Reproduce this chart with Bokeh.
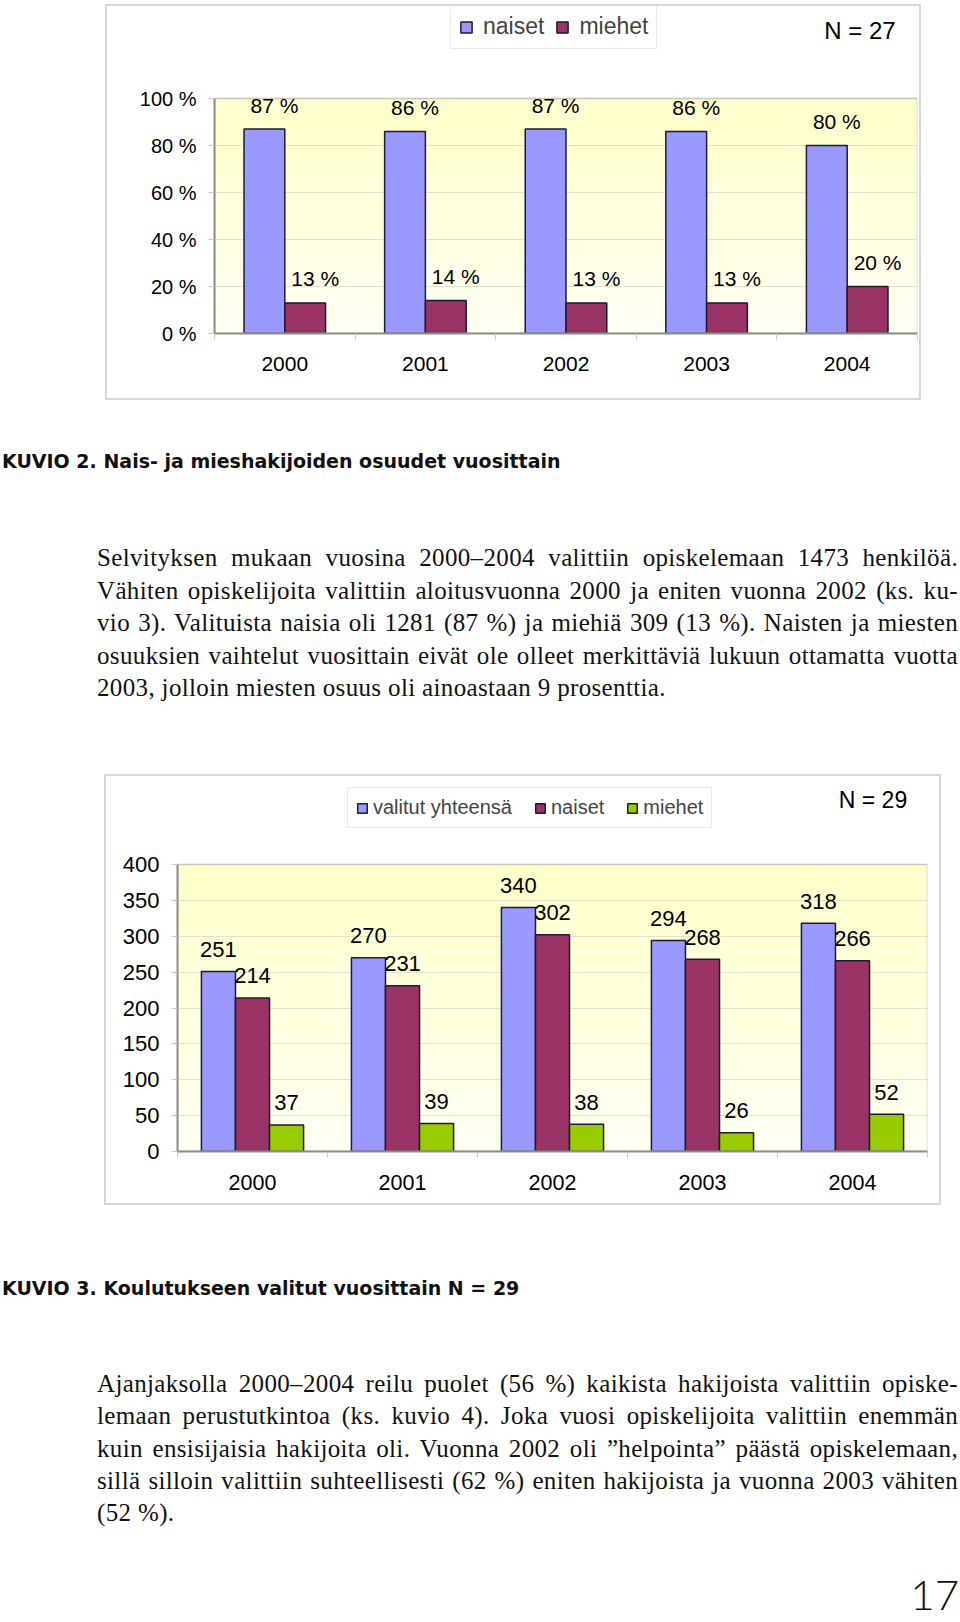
from bokeh.plotting import figure
from bokeh.models import (ColumnDataSource, LabelSet, Label, Legend, LegendItem,
                          FixedTicker, BoxAnnotation, Div, Range1d)
from bokeh.core.properties import value
from bokeh.layouts import column
from bokeh.embed import file_html
from bokeh.resources import INLINE

# ---------------- data ----------------
years = ["2000", "2001", "2002", "2003", "2004"]

# KUVIO 2 (percent shares)
k2_naiset = [87, 86, 87, 86, 80]
k2_miehet = [13, 14, 13, 13, 20]
k2_yticks = [0, 20, 40, 60, 80, 100]

# KUVIO 3 (counts)
k3_valitut = [251, 270, 340, 294, 318]
k3_naiset = [214, 231, 302, 268, 266]
k3_miehet = [37, 39, 38, 26, 52]
k3_yticks = [0, 50, 100, 150, 200, 250, 300, 350, 400]

caption2 = "KUVIO 2. Nais- ja mieshakijoiden osuudet vuosittain"
caption3 = "KUVIO 3. Koulutukseen valitut vuosittain N = 29"
para1 = [
    "Selvityksen mukaan vuosina 2000–2004 valittiin opiskelemaan 1473 henkilöä.",
    "Vähiten opiskelijoita valittiin aloitusvuonna 2000 ja eniten vuonna 2002 (ks. ku-",
    "vio 3). Valituista naisia oli 1281 (87 %) ja miehiä 309 (13 %). Naisten ja miesten",
    "osuuksien vaihtelut vuosittain eivät ole olleet merkittäviä lukuun ottamatta vuotta",
    "2003, jolloin miesten osuus oli ainoastaan 9 prosenttia.",
]
para2 = [
    "Ajanjaksolla 2000–2004 reilu puolet (56 %) kaikista hakijoista valittiin opiske-",
    "lemaan perustutkintoa (ks. kuvio 4). Joka vuosi opiskelijoita valittiin enemmän",
    "kuin ensisijaisia hakijoita oli. Vuonna 2002 oli ”helpointa” päästä opiskelemaan,",
    "sillä silloin valittiin suhteellisesti (62 %) eniten hakijoista ja vuonna 2003 vähiten",
    "(52 %).",
]
page_no = "17"

# ---------------- styles ----------------
FONT = "Liberation Sans"
BLUE = "#9999FF"
MAROON = "#993366"
GREEN = "#99CC00"
BAR_LINE = "#1c1c30"
FRAME = "#8c8c8c"
GRID = "#E2E2CC"
BG_TOP = (255, 255, 200)
BG_BOTTOM = (255, 255, 243)
BOX = "#D6D6D6"
N_BANDS = 40

centers = [i + 0.5 for i in range(len(years))]


def base_fig(w, h, left, right, bottom, ymax_area, ytop, yticks, ylabels, ysize, xsize):
    p = figure(width=w, height=h, min_border_left=left, min_border_right=right,
               min_border_top=0, min_border_bottom=bottom,
               x_range=Range1d(0, len(years)), y_range=Range1d(0, ytop),
               output_backend="svg", toolbar_location=None, tools="")
    if "frame_align" in p.properties():
        p.frame_align = False
    p.background_fill_color = "white"
    p.border_fill_color = "white"
    p.outline_line_color = None
    # outer light-grey box of the chart picture
    p.styles = {"outline": f"2px solid {BOX}", "outline-offset": "0px"}
    # plot area with a soft vertical yellow gradient (drawn first, below the grid)
    bands = []
    step = ymax_area / N_BANDS
    for i in range(N_BANDS):
        t = (i + 0.5) / N_BANDS
        rgb = tuple(round(b + (a - b) * t) for a, b in zip(BG_TOP, BG_BOTTOM))
        bands.append(BoxAnnotation(left=0, right=len(years), bottom=i * step,
                                   top=(i + 1) * step, fill_color="#%02x%02x%02x" % rgb,
                                   fill_alpha=1, line_color=None, level="underlay"))
    p.center = bands + list(p.center)
    # x axis: labels at category centres, tick marks at boundaries
    p.xaxis.ticker = FixedTicker(ticks=centers, minor_ticks=list(range(len(years) + 1)))
    p.xaxis.major_label_overrides = {c: y for c, y in zip(centers, years)}
    p.xaxis.major_tick_out = 0
    p.xaxis.major_tick_in = 0
    p.xaxis.minor_tick_out = 6
    p.xaxis.minor_tick_in = 0
    p.xaxis.minor_tick_line_color = "#C8C8C8"
    p.xaxis.axis_line_color = FRAME
    p.xaxis.axis_line_width = 2
    p.xaxis.major_label_text_font = FONT
    p.xaxis.major_label_text_font_size = xsize
    p.xaxis.major_label_text_color = "black"
    p.xaxis.major_label_standoff = 17
    # y axis
    p.yaxis.ticker = FixedTicker(ticks=yticks)
    p.yaxis.bounds = (0, ymax_area)
    p.yaxis.major_label_overrides = {t: l for t, l in zip(yticks, ylabels)}
    p.yaxis.major_tick_out = 6
    p.yaxis.major_tick_in = 0
    p.yaxis.major_tick_line_color = "#C8C8C8"
    p.yaxis.minor_tick_line_color = None
    p.yaxis.axis_line_color = FRAME
    p.yaxis.axis_line_width = 2
    p.yaxis.major_label_text_font = FONT
    p.yaxis.major_label_text_font_size = ysize
    p.yaxis.major_label_text_color = "black"
    p.yaxis.major_label_standoff = 12
    p.xgrid.grid_line_color = None
    p.ygrid.grid_line_color = GRID
    p.ygrid.grid_line_width = 1
    return p


def area_border(p, ymax_area):
    p.add_layout(BoxAnnotation(left=0, right=len(years), bottom=0, top=ymax_area,
                               fill_color=None, fill_alpha=0, line_color=FRAME,
                               line_width=2))


# ================= KUVIO 2 chart =================
# page geometry (px): figure 107..919 x 6..398 (2px outline outside),
# plot area 214..917 x 98..333
B1L, B1R, B1T, B1B = 107, 919, 6, 398
F1L, F1R, F1T, F1B = 214, 917, 98, 333
ytop1 = (F1B - B1T) / (F1B - F1T) * 100


def dx1(px):
    return (px - F1L) / (F1R - F1L) * len(years)


def dy1(py):
    return (F1B - py) / (F1B - F1T) * 100


p1 = base_fig(B1R - B1L, B1B - B1T, F1L - B1L, B1R - F1R, B1B - F1B, 100, ytop1,
              k2_yticks, [f"{t} %" for t in k2_yticks], "20px", "21px")
p1.margin = (B1T, 0, 2, B1L)

w1 = 0.29
s1 = ColumnDataSource(dict(
    xn=[c - w1 / 2 for c in centers], xm=[c + w1 / 2 for c in centers],
    n=k2_naiset, m=k2_miehet,
    tn=[f"{v} %" for v in k2_naiset], tm=[f"{v} %" for v in k2_miehet]))
r_n1 = p1.vbar(x="xn", top="n", width=w1, source=s1, fill_color=BLUE,
               line_color=BAR_LINE, line_width=1.5)
r_m1 = p1.vbar(x="xm", top="m", width=w1, source=s1, fill_color=MAROON,
               line_color=BAR_LINE, line_width=1.5)
area_border(p1, 100)
for xcol, ycol, tcol in (("xn", "n", "tn"), ("xm", "m", "tm")):
    p1.add_layout(LabelSet(x=xcol, y=ycol, text=tcol, source=s1, x_offset=10, y_offset=24,
                           text_align="center", text_baseline="middle",
                           text_font=value(FONT), text_font_size=value("21px"),
                           text_color="black"))

leg1 = Legend(items=[LegendItem(label="naiset", renderers=[r_n1]),
                     LegendItem(label="miehet", renderers=[r_m1])],
              location=(450 - F1L, F1B - 49), orientation="horizontal",
              label_text_font=FONT, label_text_font_size="23px",
              glyph_width=14, glyph_height=14, label_standoff=10, spacing=11,
              padding=8, margin=0, label_height=25,
              border_line_color="#D4D4D4", border_line_width=1.5,
              background_fill_color="white", background_fill_alpha=1)
p1.add_layout(leg1)
p1.add_layout(Label(x=dx1(859.5), y=dy1(30), text="N = 27", text_align="center",
                    text_baseline="middle", text_font=FONT, text_font_size="24px",
                    text_color="black"))

# ================= KUVIO 3 chart =================
# page geometry (px): figure 106..939 x 776..1203 (2px outline outside),
# plot area 177..927 x 864..1151
B2L, B2R, B2T, B2B = 106, 939, 776, 1203
F2L, F2R, F2T, F2B = 177, 927, 864, 1151
ytop2 = (F2B - B2T) / (F2B - F2T) * 400


def dx2(px):
    return (px - F2L) / (F2R - F2L) * len(years)


def dy2(py):
    return (F2B - py) / (F2B - F2T) * 400


p2 = base_fig(B2R - B2L, B2B - B2T, F2L - B2L, B2R - F2R, B2B - F2B, 400, ytop2,
              k3_yticks, [str(t) for t in k3_yticks], "22px", "21.5px")
p2.margin = (2, 0, 2, B2L)

w2 = 0.227
s2 = ColumnDataSource(dict(
    xv=[c - w2 for c in centers], xn=centers, xm=[c + w2 for c in centers],
    v=k3_valitut, n=k3_naiset, m=k3_miehet,
    tv=[str(v) for v in k3_valitut], tn=[str(v) for v in k3_naiset],
    tm=[str(v) for v in k3_miehet]))
r_v2 = p2.vbar(x="xv", top="v", width=w2, source=s2, fill_color=BLUE,
               line_color=BAR_LINE, line_width=1.5)
r_n2 = p2.vbar(x="xn", top="n", width=w2, source=s2, fill_color=MAROON,
               line_color=BAR_LINE, line_width=1.5)
r_m2 = p2.vbar(x="xm", top="m", width=w2, source=s2, fill_color=GREEN,
               line_color=BAR_LINE, line_width=1.5)
area_border(p2, 400)
for xcol, ycol, tcol in (("xv", "v", "tv"), ("xn", "n", "tn"), ("xm", "m", "tm")):
    p2.add_layout(LabelSet(x=xcol, y=ycol, text=tcol, source=s2, x_offset=0, y_offset=22,
                           text_align="center", text_baseline="middle",
                           text_font=value(FONT), text_font_size=value("22px"),
                           text_color="black"))

leg2 = Legend(items=[LegendItem(label="valitut yhteensä", renderers=[r_v2]),
                     LegendItem(label="naiset", renderers=[r_n2]),
                     LegendItem(label="miehet", renderers=[r_m2])],
              location=(347 - F2L, F2B - 828), orientation="horizontal",
              label_text_font=FONT, label_text_font_size="20px",
              glyph_width=12, glyph_height=12, label_standoff=5, spacing=22,
              padding=8, margin=0, label_height=20,
              border_line_color="#D4D4D4", border_line_width=1.5,
              background_fill_color="white", background_fill_alpha=1)
p2.add_layout(leg2)
p2.add_layout(Label(x=dx2(872.5), y=dy2(799), text="N = 29", text_align="center",
                    text_baseline="middle", text_font=FONT, text_font_size="23px",
                    text_color="black"))

# ================= text blocks =================
SERIF = "'Liberation Serif', serif"
LH = 32.4


def para_html(lines, top):
    out = [f'<div style="position:absolute;left:97px;top:{top}px;width:861px;'
           f'font-family:{SERIF};font-size:25px;line-height:{LH}px;letter-spacing:0.35px;color:#111;">']
    for i, ln in enumerate(lines):
        last = i == len(lines) - 1
        al = "left" if last else "justify"
        out.append(f'<div style="white-space:nowrap;text-align:{al};text-align-last:{al};">{ln}</div>')
    out.append("</div>")
    return "".join(out)


def caption_html(text, top):
    return (f'<div style="position:absolute;left:2px;top:{top}px;white-space:nowrap;'
            f"font-family:'DejaVu Sans',sans-serif;font-weight:bold;font-size:19px;"
            f'line-height:30px;color:#111;">{text}</div>')


D1T = 400
D1H = 774 - D1T
html1 = (f'<div style="position:relative;width:960px;height:{D1H}px;">'
         + caption_html(caption2, 461 - D1T - 15)
         + para_html(para1, round(558.6 - D1T - LH / 2, 1))
         + "</div>")
D2T = 1205
D2H = 1622 - D2T
html2 = (f'<div style="position:relative;width:960px;height:{D2H}px;">'
         + caption_html(caption3, 1288 - D2T - 15)
         + para_html(para2, round(1384 - D2T - LH / 2, 1))
         + f'<div style="position:absolute;right:1px;top:{1569 - D2T}px;'
           f"font-family:Lato,sans-serif;font-weight:300;font-size:42px;line-height:51px;"
           f'color:#111;">{page_no}</div>'
         + "</div>")

div1 = Div(text=html1, width=960, height=D1H, margin=0)
div2 = Div(text=html2, width=960, height=D2H, margin=0)

layout = column(p1, div1, p2, div2, spacing=0, margin=0)
open("out.html", "w").write(file_html(layout, INLINE))
